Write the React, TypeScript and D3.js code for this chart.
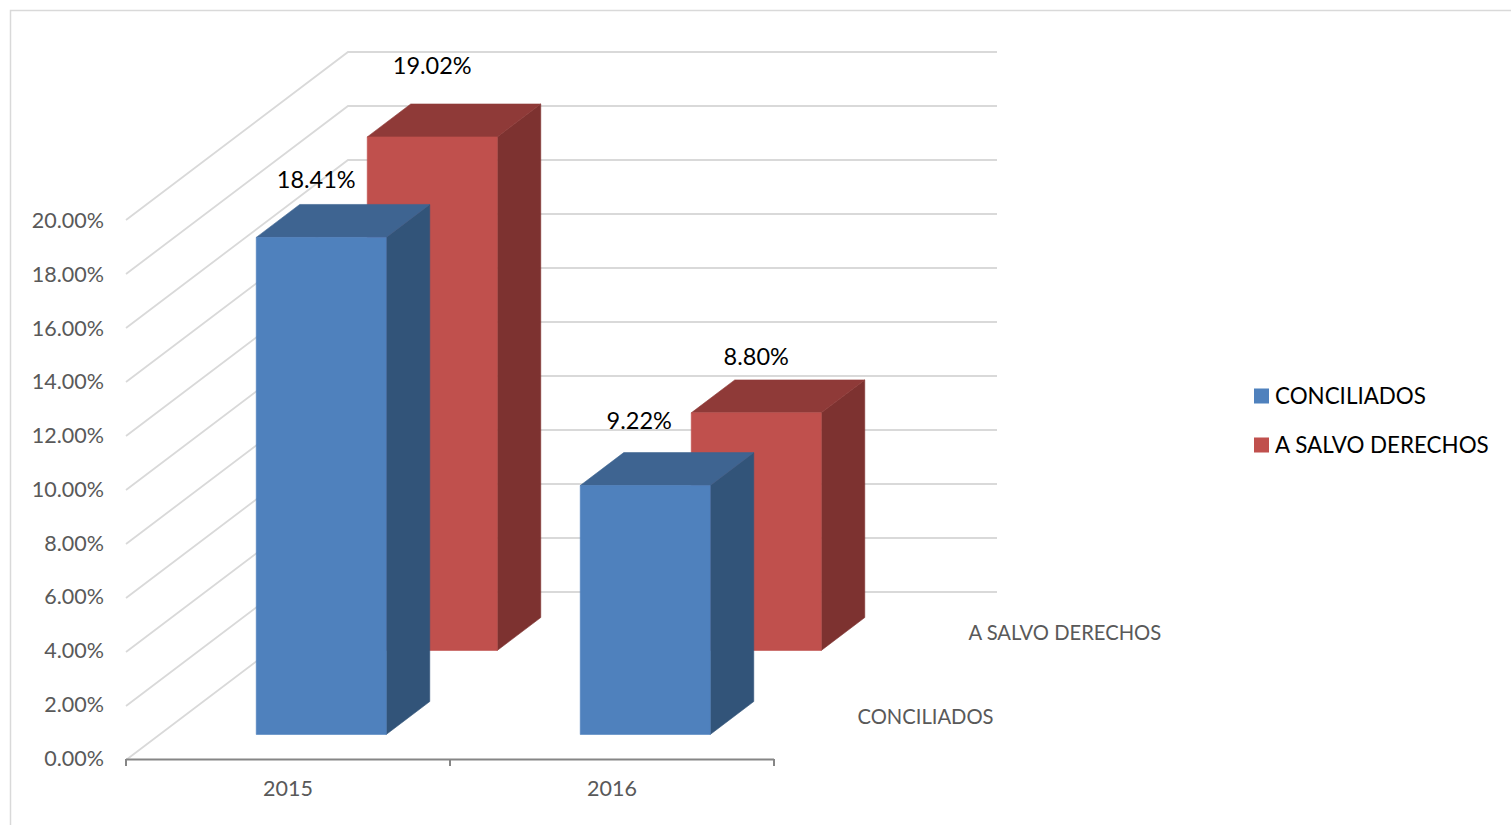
import * as d3 from "d3";
import { useEffect, useRef } from "react";

const years = ["2015", "2016"];
const seriesNames = ["CONCILIADOS", "A SALVO DERECHOS"];
const conciliados = [18.41, 9.22];
const aSalvoDerechos = [19.02, 8.8];
const yTicks = [0, 2, 4, 6, 8, 10, 12, 14, 16, 18, 20];

const seriesColors = {
  CONCILIADOS: { front: "#4f81bd", side: "#325479", top: "#3e6491" },
  "A SALVO DERECHOS": { front: "#c0504d", side: "#7d3230", top: "#8f3a38" },
};

// data labels were moved by hand in the original chart
const labelShift = {
  CONCILIADOS: [
    [-5, -57.5],
    [-6, -65],
  ],
  "A SALVO DERECHOS": [
    [0, -71],
    [0, -56],
  ],
};

const FONT = "Lato, 'Open Sans', sans-serif";

export default function App() {
  const svgRef = useRef(null);

  useEffect(() => {
    const width = 1511;
    const height = 825;
    const svg = d3.select(svgRef.current).attr("width", width).attr("height", height);
    svg.selectAll("*").remove();

    // oblique projection: depth moves up and to the right
    const depthX = 222;
    const depthY = -168;

    const x = d3.scaleBand().domain(years).range([126, 774]);
    const y = d3.scaleLinear().domain([0, 20]).range([760, 220]);
    const tickY = d3.scaleLinear().domain([0, 20]).range([758, 220.5]);
    const z = d3.scaleBand().domain(seriesNames).range([0, 1]);

    const project = (px, value, t) => [px + depthX * t, y(value) + depthY * t];
    const line = d3.line();
    const poly = (pts) => line(pts) + "Z";

    // frame
    svg
      .append("path")
      .attr("d", `M10.5,${height}V10.5H${width}`)
      .attr("fill", "none")
      .attr("stroke", "#d9d9d9")
      .attr("stroke-width", 1.5);

    // gridlines on the side and back walls
    yTicks.forEach((t) => {
      svg
        .append("path")
        .attr("d", line([project(126, t, 0), project(126, t, 1), project(775, t, 1)]))
        .attr("fill", "none")
        .attr("stroke", "#d9d9d9")
        .attr("stroke-width", 1.8);
      svg
        .append("text")
        .attr("x", 104)
        .attr("y", tickY(t))
        .attr("dy", "0.35em")
        .attr("text-anchor", "end")
        .attr("font-family", FONT)
        .attr("font-size", 21.5)
        .attr("fill", "#595959")
        .text(d3.format(".2f")(t) + "%");
    });

    // x axis
    svg
      .append("line")
      .attr("x1", 126)
      .attr("x2", 774)
      .attr("y1", 759.5)
      .attr("y2", 759.5)
      .attr("stroke", "#868686")
      .attr("stroke-width", 2);
    [126, x("2016"), 774].forEach((tx) => {
      svg
        .append("line")
        .attr("x1", tx)
        .attr("x2", tx)
        .attr("y1", 759)
        .attr("y2", 766)
        .attr("stroke", "#868686")
        .attr("stroke-width", 2);
    });
    years.forEach((yr) => {
      svg
        .append("text")
        .attr("x", x(yr) + x.bandwidth() / 2)
        .attr("y", 788)
        .attr("dy", "0.35em")
        .attr("text-anchor", "middle")
        .attr("font-family", FONT)
        .attr("font-size", 21.5)
        .attr("fill", "#595959")
        .text(yr);
    });

    // series names on the floor
    seriesNames.forEach((name) => {
      const [px, py] = project(774, 0, z(name) + z.bandwidth() / 2);
      svg
        .append("text")
        .attr("x", px + 28)
        .attr("y", py - 1)
        .attr("dy", "0.35em")
        .attr("font-family", FONT)
        .attr("font-size", 20.2)
        .attr("fill", "#595959")
        .text(name);
    });

    // bars, back row first
    const barW = 130;
    const barD = 0.196;
    const drawSeries = (name, values) => {
      const c = seriesColors[name];
      const t0 = z(name) + (z.bandwidth() - barD) / 2;
      const t1 = t0 + barD;
      values.forEach((v, i) => {
        const x0 = x(years[i]) + (x.bandwidth() - barW) / 2 - 0.5;
        const x1 = x0 + barW;
        const g = svg.append("g").attr("stroke-width", 0.6);
        g.append("path")
          .attr("fill", c.side)
          .attr("stroke", c.side)
          .attr("d", poly([project(x1, 0, t0), project(x1, 0, t1), project(x1, v, t1), project(x1, v, t0)]));
        g.append("path")
          .attr("fill", c.top)
          .attr("stroke", c.top)
          .attr("d", poly([project(x0, v, t0), project(x1, v, t0), project(x1, v, t1), project(x0, v, t1)]));
        g.append("path")
          .attr("fill", c.front)
          .attr("stroke", c.front)
          .attr("d", poly([project(x0, 0, t0), project(x1, 0, t0), project(x1, v, t0), project(x0, v, t0)]));

        const [fx, fy] = project((x0 + x1) / 2, v, t0);
        const [sx, sy] = labelShift[name][i];
        svg
          .append("text")
          .attr("class", "value-label")
          .attr("x", fx + sx)
          .attr("y", fy + sy)
          .attr("dy", "0.35em")
          .attr("text-anchor", "middle")
          .attr("font-family", FONT)
          .attr("font-size", 23.5)
          .attr("fill", "#000")
          .text(d3.format(".2f")(v) + "%");
      });
    };
    drawSeries("A SALVO DERECHOS", aSalvoDerechos);
    drawSeries("CONCILIADOS", conciliados);
    svg.selectAll(".value-label").raise();

    // legend
    const legendY = d3.scalePoint().domain(seriesNames).range([396, 445]);
    seriesNames.forEach((name) => {
      svg
        .append("rect")
        .attr("x", 1254)
        .attr("y", legendY(name) - 7.5)
        .attr("width", 15)
        .attr("height", 15)
        .attr("fill", seriesColors[name].front);
      svg
        .append("text")
        .attr("x", 1275)
        .attr("y", legendY(name))
        .attr("dy", "0.35em")
        .attr("font-family", FONT)
        .attr("font-size", 22.4)
        .attr("fill", "#000")
        .text(name);
    });
  }, []);

  return <svg ref={svgRef} style={{ position: "absolute", left: 0, top: 0, background: "#fff" }}></svg>;
}
